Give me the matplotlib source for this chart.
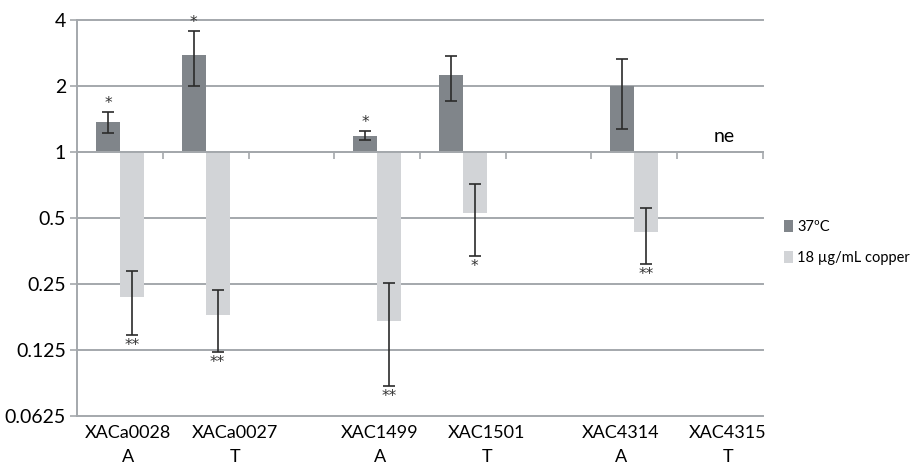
import math

import matplotlib
matplotlib.use("Agg")
import matplotlib.pyplot as plt
import matplotlib.transforms as mtransforms
from matplotlib.ticker import FixedLocator, NullLocator

plt.rcParams["font.family"] = ["Lato", "DejaVu Sans"]

nan = math.nan

genes = ["XACa0028", "XACa0027", "", "XAC1499", "XAC1501", "", "XAC4314", "XAC4315"]
strands = ["A", "T", "", "A", "T", "", "A", "T"]

temp_values = [1.37, 2.76, nan, 1.19, 2.24, nan, 2.0, nan]
temp_low = [1.22, 2.0, nan, 1.14, 1.71, nan, 1.27, nan]
temp_high = [1.53, 3.55, nan, 1.25, 2.75, nan, 2.67, nan]
temp_sig = ["*", "*", "", "*", "", "", "", ""]

copper_values = [0.219, 0.18, nan, 0.17, 0.53, nan, 0.43, nan]
copper_low = [0.147, 0.122, nan, 0.086, 0.335, nan, 0.308, nan]
copper_high = [0.287, 0.236, nan, 0.253, 0.717, nan, 0.555, nan]
copper_sig = ["**", "**", "", "**", "*", "", "**", ""]

not_expressed = [False, False, False, False, False, False, False, True]

y_ticks = [0.0625, 0.125, 0.25, 0.5, 1, 2, 4]
y_tick_labels = ["0.0625", "0.125", "0.25", "0.5", "1", "2", "4"]

# manual label placement (offset from category index), as in the original figure
label_offsets = [0.09, 0.34, 0, 0.03, 0.28, 0, -0.16, 0.09]

DARK = "#80858a"
LIGHT = "#d2d4d7"
GRID = "#a4a8ac"
BAR_W = 0.28

fig = plt.figure(figsize=(9.17, 4.67), dpi=100)
ax = fig.add_axes([0.084, 0.109, 0.748, 0.848])

x = list(range(len(genes)))
x_temp = [i - BAR_W / 2 for i in x]
x_copper = [i + BAR_W / 2 for i in x]

ax.bar(x_temp, [v - 1 for v in temp_values], bottom=1, width=BAR_W,
       color=DARK, label="37ºC", zorder=3)
ax.bar(x_copper, [v - 1 for v in copper_values], bottom=1, width=BAR_W,
       color=LIGHT, label="18 µg/mL copper", zorder=3)


def draw_err(xs, vals, lows, highs):
    ax.errorbar(xs, vals,
                yerr=[[v - lo for v, lo in zip(vals, lows)],
                      [hi - v for v, hi in zip(vals, highs)]],
                fmt="none", ecolor="#2b2b2b", elinewidth=1.2, capsize=4,
                capthick=1.2, zorder=4)


draw_err(x_temp, temp_values, temp_low, temp_high)
draw_err(x_copper, copper_values, copper_low, copper_high)

for xi, hi, s in zip(x_temp, temp_high, temp_sig):
    if s:
        ax.text(xi, hi * 1.01, s, ha="center", va="bottom", fontsize=11,
                color="#333333", family="DejaVu Sans")
for xi, lo, s in zip(x_copper, copper_low, copper_sig):
    if s:
        ax.text(xi, lo * 0.97, s, ha="center", va="top", fontsize=11,
                color="#333333", family="DejaVu Sans")

for i, ne in enumerate(not_expressed):
    if ne:
        ax.text(i + 0.05, 1.08, "ne", ha="center", va="bottom", fontsize=14)

ax.set_yscale("log", base=2)
ax.set_ylim(0.0625, 4)
ax.set_xlim(-0.5, len(genes) - 0.5)
ax.yaxis.set_major_locator(FixedLocator(y_ticks))
ax.yaxis.set_minor_locator(NullLocator())
ax.set_yticklabels(y_tick_labels)
ax.tick_params(axis="y", length=5, width=1.2, color=GRID, labelsize=14,
               pad=3)
ax.grid(True, axis="y", color=GRID, linewidth=1.4, zorder=0, clip_on=False)

for side in ["top", "right"]:
    ax.spines[side].set_visible(False)
ax.spines["left"].set_color(GRID)
ax.spines["left"].set_linewidth(1.4)
ax.spines["bottom"].set_position(("data", 1))
ax.spines["bottom"].set_color(GRID)
ax.spines["bottom"].set_linewidth(1.4)
ax.spines["bottom"].set_zorder(3.5)

ax.xaxis.set_major_locator(NullLocator())
ax.xaxis.set_minor_locator(FixedLocator([i - 0.5 for i in range(len(genes) + 1)]))
ax.tick_params(axis="x", which="minor", length=5, width=1.2, color=GRID,
               direction="out")

trans = mtransforms.blended_transform_factory(ax.transData, ax.transAxes)
for i, (g, s, off) in enumerate(zip(genes, strands, label_offsets)):
    if g:
        ax.text(i + off, -0.022, g + "\n" + s, transform=trans, ha="center",
                va="top", fontsize=13, linespacing=1.6)

ax.legend(loc="center left", bbox_to_anchor=(0.855, 0.48),
          bbox_transform=fig.transFigure, frameon=False, fontsize=10.5,
          handlelength=0.6, handleheight=0.9, handletextpad=0.3,
          labelspacing=1.15, borderaxespad=0, borderpad=0)

fig.savefig("out.png", dpi=100)
